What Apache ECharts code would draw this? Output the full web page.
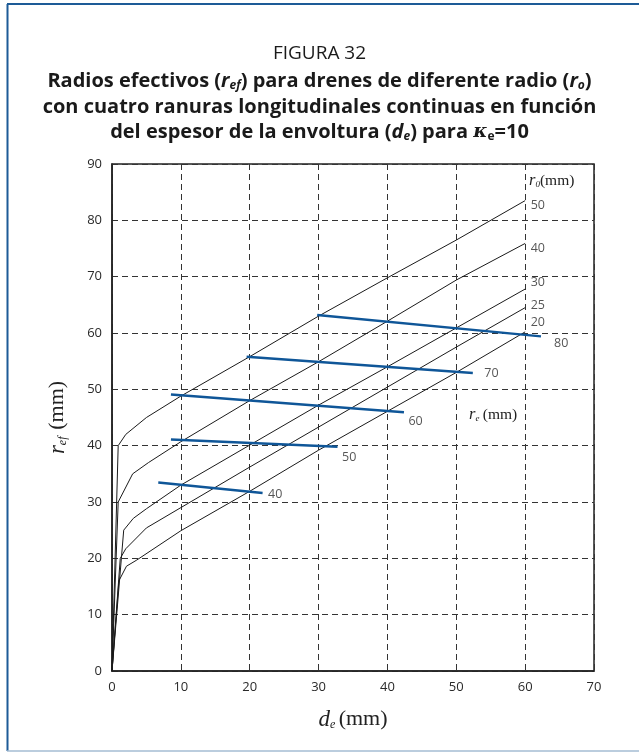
<!DOCTYPE html>
<html><head><meta charset="utf-8">
<script src="https://cdn.jsdelivr.net/npm/echarts@6/dist/echarts.min.js"></script>
<style>html,body{margin:0;padding:0;background:#fff}#c{width:639px;height:752px}</style>
</head><body><div id="c"></div>
<script>
// ---- data ----
const xTicks = [0, 10, 20, 30, 40, 50, 60, 70];
const yTicks = [0, 10, 20, 30, 40, 50, 60, 70, 80, 90];

// effective radius curves, one per drain radius r0 (mm)
const r0Names = ['50', '40', '30', '25', '20'];
const curve50X = [0, 0.9, 2, 5, 10, 20, 30, 40, 50, 60];
const curve50Y = [0, 40, 42, 45, 48.8, 55.8, 63.0, 69.8, 76.5, 83.5];
const curve40X = [0, 0.9, 3, 5.3, 10, 20, 30, 40, 50, 60];
const curve40Y = [0, 30, 35, 37, 40.7, 48.0, 54.9, 62.1, 69.4, 75.9];
const curve30X = [0, 1.7, 3.1, 5, 10, 20, 30, 40, 50, 60];
const curve30Y = [0, 25, 27.1, 28.8, 33.0, 40.1, 47.2, 54.0, 60.9, 67.8];
const curve25X = [0, 1.2, 2, 5, 10, 20, 30, 40, 50, 60];
const curve25Y = [0, 20, 21.7, 25.4, 29.0, 36.2, 43.3, 50.4, 57.5, 64.5];
const curve20X = [0, 1, 2.1, 3.6, 10, 20, 30, 40, 50, 60];
const curve20Y = [0, 16, 18.6, 19.7, 24.9, 31.9, 39.2, 46.1, 53.0, 60.2];

// constant envelope radius lines r_e (mm)
const reNames = ['80', '70', '60', '50', '40'];
const re80X = [29.8, 62.3], re80Y = [63.2, 59.4];
const re70X = [19.55, 52.4], re70Y = [55.8, 52.9];
const re60X = [8.56, 42.4], re60Y = [49.1, 45.95];
const re50X = [8.56, 32.75], re50Y = [41.1, 39.8];
const re40X = [6.72, 21.87], re40Y = [33.45, 31.6];

// ---- styling (label offsets in px) ----
const r0LabelOffsets = [[5, 5], [5, 4.6], [5, -6.3], [5, -2.6], [5, -9.5]];
const reLabelOffsets = [[12.5, 7], [11, 0], [4, 9], [4, 10.5], [5, 1.6]];

const curveX = [curve50X, curve40X, curve30X, curve25X, curve20X];
const curveY = [curve50Y, curve40Y, curve30Y, curve25Y, curve20Y];
const reX = [re80X, re70X, re60X, re50X, re40X];
const reY = [re80Y, re70Y, re60Y, re50Y, re40Y];

const zip = (xs, ys) => xs.map((x, i) => [x, ys[i]]);
const SANS = "'Open Sans', 'Noto Sans', sans-serif";
const SERIF = "'Liberation Serif', 'DejaVu Serif', serif";

const series = [];
curveX.forEach((xs, k) => {
  const pts = zip(xs, curveY[k]);
  series.push({
    type: 'line', name: 'r0 ' + r0Names[k], data: pts, showSymbol: false, smooth: false,
    lineStyle: { color: '#1a1a1a', width: 1 }, silent: true, z: 3
  });
  series.push({
    type: 'scatter', data: [pts[pts.length - 1]], symbolSize: 1, silent: true,
    itemStyle: { color: 'rgba(0,0,0,0)' },
    label: { show: true, position: 'right', distance: 0, offset: r0LabelOffsets[k],
      formatter: r0Names[k], fontFamily: SANS, fontSize: 12.5, color: '#2a2a2a' }
  });
});
reX.forEach((xs, k) => {
  const pts = zip(xs, reY[k]);
  series.push({
    type: 'line', name: 're ' + reNames[k], data: pts, showSymbol: false,
    lineStyle: { color: '#0f5698', width: 2.5 }, silent: true, z: 4
  });
  series.push({
    type: 'scatter', data: [pts[pts.length - 1]], symbolSize: 1, silent: true,
    itemStyle: { color: 'rgba(0,0,0,0)' },
    label: { show: true, position: 'right', distance: 0, offset: reLabelOffsets[k],
      formatter: reNames[k], fontFamily: SANS, fontSize: 12.5, color: '#2a2a2a' }
  });
});

const TF = 20;
const titleRich = {
  it: { fontFamily: SANS, fontWeight: 'bold', fontStyle: 'italic', fontSize: TF, color: '#1a1a1a', lineHeight: 25 },
  sb: { fontFamily: SANS, fontWeight: 'bold', fontStyle: 'italic', fontSize: 12, color: '#1a1a1a', lineHeight: 15, padding: [9, 0, 0, 0] },
  k:  { fontFamily: "'DejaVu Serif', serif", fontStyle: 'italic', fontSize: 19, color: '#1a1a1a', lineHeight: 25 },
  sbn:{ fontFamily: SANS, fontWeight: 'bold', fontSize: 12, color: '#1a1a1a', lineHeight: 15, padding: [9, 0, 0, 0] }
};
const boldTitle = (text, top) => ({
  text, left: 'center', top, padding: 0,
  textStyle: { fontFamily: SANS, fontWeight: 'bold', fontSize: TF, color: '#1a1a1a', lineHeight: 25, rich: titleRich }
});

const serifRich = (big, small, pad) => ({
  i: { fontFamily: SERIF, fontStyle: 'italic', fontSize: big, fill: '#222', color: '#222' },
  s: { fontFamily: SERIF, fontStyle: 'italic', fontSize: small, fill: '#222', color: '#222', padding: [pad, 0, 0, 0] },
  n: { fontFamily: SERIF, fontSize: big - 1, fill: '#222', color: '#222' }
});

const chart = echarts.init(document.getElementById('c'), null, { renderer: 'canvas' });
chart.setOption({
  animation: false,
  backgroundColor: '#fff',
  title: [
    { text: 'FIGURA 32', left: 'center', top: 44, padding: 0,
      textStyle: { fontFamily: SANS, fontWeight: 'normal', fontSize: 19, color: '#1a1a1a' } },
    boldTitle('Radios efectivos ({it|r}{sb|ef}) para drenes de diferente radio ({it|r}{sb|o})', 69),
    boldTitle('con cuatro ranuras longitudinales continuas en función', 95),
    boldTitle('del espesor de la envoltura ({it|d}{sb|e}) para {k|κ}{sbn|e}=10', 120)
  ],
  grid: { left: 112, right: 45, top: 164, bottom: 81, show: true, borderColor: '#222', borderWidth: 1.5, backgroundColor: 'transparent' },
  xAxis: {
    type: 'value', min: xTicks[0], max: xTicks[xTicks.length - 1], interval: xTicks[1] - xTicks[0],
    axisLine: { show: true, lineStyle: { color: '#222', width: 1.5 } },
    axisTick: { show: false },
    axisLabel: { color: '#2a2a2a', fontFamily: SANS, fontSize: 13, margin: 10 },
    splitLine: { show: true, lineStyle: { color: '#333', type: [6, 4], width: 1 } },
    name: '{i|d}{s|e} {n|(mm)}', nameLocation: 'middle', nameGap: 37,
    nameTextStyle: { rich: serifRich(23, 12, 10) }
  },
  yAxis: {
    type: 'value', min: yTicks[0], max: yTicks[yTicks.length - 1], interval: yTicks[1] - yTicks[0],
    axisLine: { show: true, lineStyle: { color: '#222', width: 1.5 } },
    axisTick: { show: false },
    axisLabel: { color: '#2a2a2a', fontFamily: SANS, fontSize: 13, margin: 10 },
    splitLine: { show: true, lineStyle: { color: '#333', type: [6, 4], width: 1 } },
    name: '{i|r}{s|ef}  {n|(mm)}', nameLocation: 'middle', nameGap: 43, nameRotate: 90,
    nameTextStyle: { rich: serifRich(23, 12, 10) }
  },
  series,
  graphic: [
    { type: 'line', shape: { x1: 7.5, y1: 4, x2: 7.5, y2: 751 }, style: { stroke: '#1d5b97', lineWidth: 2 }, silent: true },
    { type: 'line', shape: { x1: 7, y1: 4, x2: 639, y2: 4 }, style: { stroke: '#1d5b97', lineWidth: 2 }, silent: true },
    { type: 'line', shape: { x1: 7, y1: 751, x2: 639, y2: 751 }, style: { stroke: '#a4bcd3', lineWidth: 1.5 }, silent: true },
    { type: 'text', x: 529, y: 181, silent: true, z: 10,
      style: { text: '{i|r}{s|0}{n|(mm)}', align: 'left', verticalAlign: 'middle', rich: serifRich(16.5, 9, 7) } },
    { type: 'text', x: 469, y: 415, silent: true, z: 10,
      style: { text: '{i|r}{s|e} {n|(mm)}', align: 'left', verticalAlign: 'middle', rich: serifRich(16.5, 9, 7) } }
  ]
});
</script></body></html>
